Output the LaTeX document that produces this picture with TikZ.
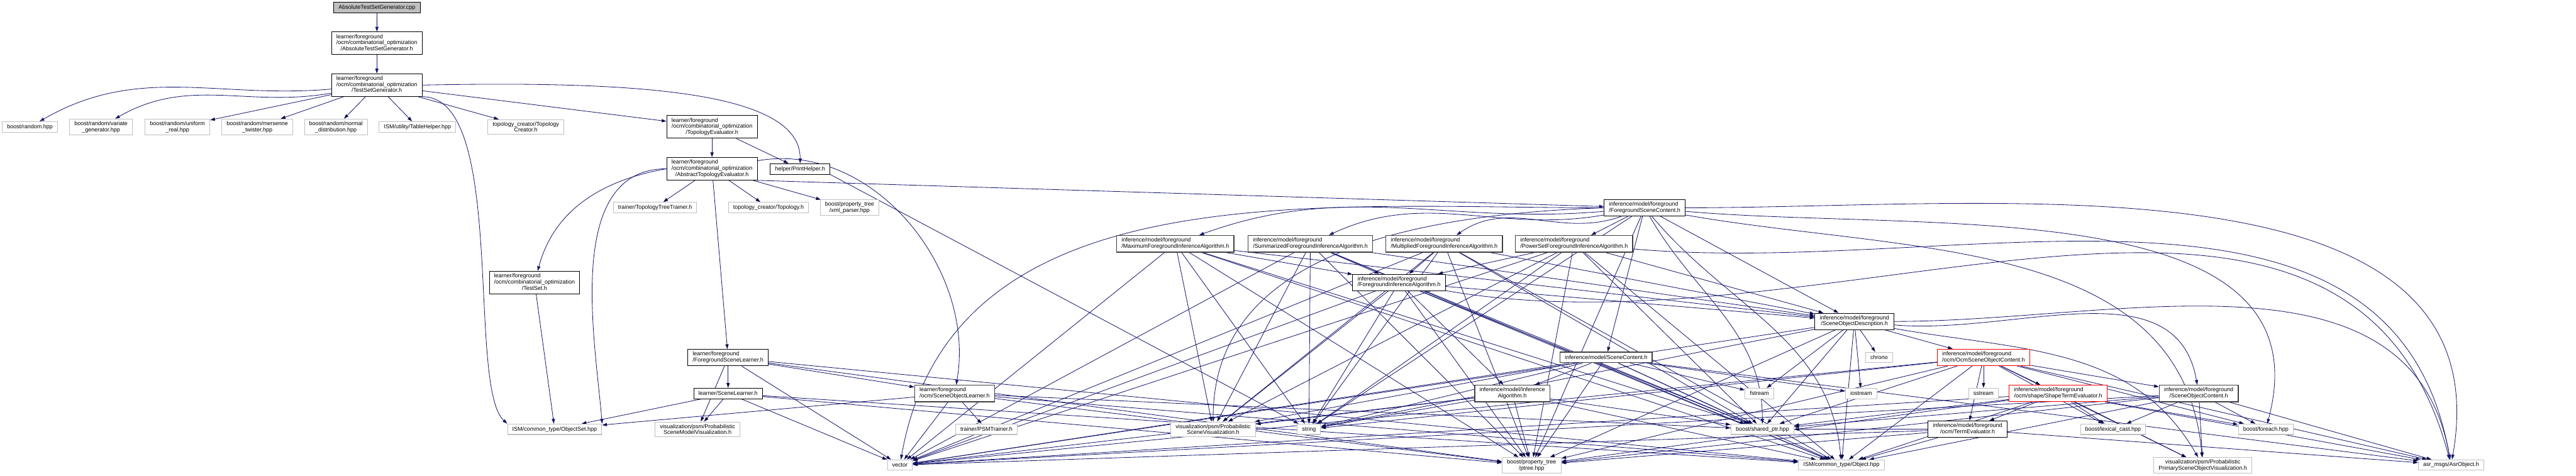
\documentclass[tikz,border=0pt]{standalone}
\usepackage{fontspec}
\setmainfont{Liberation Sans}
\usetikzlibrary{arrows.meta,backgrounds}
\definecolor{edgeblue}{HTML}{191970}
\definecolor{extgray}{HTML}{BFBFBF}
\definecolor{darkrim}{HTML}{404040}
\definecolor{trunc}{HTML}{FF0000}
\tikzset{
  file/.style={draw=black, fill=white, line width=0.45pt, minimum height=2.6mm,
    inner xsep=1.2mm, inner ysep=0.54mm, font=\fontsize{4}{4.3}\selectfont},
  srcfile/.style={file, fill=extgray},
  ext/.style={file, draw=extgray, align=center},
  dim/.style={file, draw=darkrim, line width=0.6pt},
  cut/.style={file, draw=trunc},
  dep/.style={-{Triangle[length=1.2mm,width=0.8mm]}, draw=edgeblue, line width=0.37pt},
}
\newcommand{\twol}[2]{\begin{tabular}{@{}l@{}}#1\\\multicolumn{1}{@{}c@{}}{#2}\end{tabular}}

\begin{document}
\begin{tikzpicture}
  \useasboundingbox (0,0) rectangle (64.02,-11.83);
  % test set generator chain
  \node[srcfile] (tsgcpp) at (9.37,-0.19) {AbsoluteTestSetGenerator.cpp};
  \node[file] (atsg) at (9.365,-1.075) {\twol{learner/foreground\\/ocm/combinatorial\_optimization}{/AbsoluteTestSetGenerator.h}};
  \node[file] (tsg) at (9.365,-2.115) {\twol{learner/foreground\\/ocm/combinatorial\_optimization}{/TestSetGenerator.h}};
  \node[ext] (rnd) at (0.745,-3.155) {boost/random.hpp};
  \node[ext] (vargen) at (2.51,-3.155) {boost/random/variate\\\_generator.hpp};
  \node[ext] (unireal) at (4.41,-3.155) {boost/random/uniform\\\_real.hpp};
  \node[ext] (mtwist) at (6.395,-3.155) {boost/random/mersenne\\\_twister.hpp};
  \node[ext] (normdist) at (8.35,-3.155) {boost/random/normal\\\_distribution.hpp};
  \node[ext] (tblhelp) at (10.375,-3.155) {ISM/utility/TableHelper.hpp};
  \node[ext] (topocreat) at (13.07,-3.155) {topology\_creator/Topology\\Creator.h};
  \node[file] (topoeval) at (17.695,-3.155) {\twol{learner/foreground\\/ocm/combinatorial\_optimization}{/TopologyEvaluator.h}};
  \node[file] (abstopo) at (17.695,-4.195) {\twol{learner/foreground\\/ocm/combinatorial\_optimization}{/AbstractTopologyEvaluator.h}};
  \node[file] (printh) at (19.885,-4.20) {helper/PrintHelper.h};
  \node[ext] (treetrain) at (16.28,-5.16) {trainer/TopologyTreeTrainer.h};
  \node[ext] (topology) at (19.10,-5.16) {topology\_creator/Topology.h};
  \node[ext] (xmlparse) at (21.115,-5.165) {boost/property\_tree\\/xml\_parser.hpp};
  \node[file] (testset) at (13.285,-7.025) {\twol{learner/foreground\\/ocm/combinatorial\_optimization}{/TestSet.h}};
  \node[ext] (objset) at (13.785,-10.67) {ISM/common\_type/ObjectSet.hpp};
  % learners
  \node[file] (fglearn) at (18.095,-8.89) {\twol{learner/foreground}{/ForegroundSceneLearner.h}};
  \node[file] (sclearn) at (18.095,-9.78) {learner/SceneLearner.h};
  \node[ext] (psmvis) at (17.335,-10.67) {visualization/psm/Probabilistic\\SceneModelVisualization.h};
  \node[dim] (objlearn) at (23.725,-9.78) {\twol{learner/foreground}{/ocm/SceneObjectLearner.h}};
  \node[ext] (psmtrain) at (24.515,-10.67) {trainer/PSMTrainer.h};
  % inference
  \node[file] (fgcontent) at (40.875,-5.165) {\twol{inference/model/foreground}{/ForegroundSceneContent.h}};
  \node[dim] (maxalg) at (29.21,-6.06) {\twol{inference/model/foreground}{/MaximumForegroundInferenceAlgorithm.h}};
  \node[dim] (sumalg) at (32.565,-6.06) {\twol{inference/model/foreground}{/SummarizedForegroundInferenceAlgorithm.h}};
  \node[dim] (mulalg) at (35.89,-6.06) {\twol{inference/model/foreground}{/MultipliedForegroundInferenceAlgorithm.h}};
  \node[dim] (powalg) at (39.12,-6.06) {\twol{inference/model/foreground}{/PowerSetForegroundInferenceAlgorithm.h}};
  \node[file] (fgalg) at (34.77,-7.02) {\twol{inference/model/foreground}{/ForegroundInferenceAlgorithm.h}};
  \node[file] (objdesc) at (46.085,-7.99) {\twol{inference/model/foreground}{/SceneObjectDescription.h}};
  \node[dim] (sccontent) at (39.915,-8.885) {inference/model/SceneContent.h};
  \node[ext] (chrono) at (46.70,-8.885) {chrono};
  \node[cut] (ocmcont) at (49.295,-8.885) {\twol{inference/model/foreground}{/ocm/OcmSceneObjectContent.h}};
  \node[dim] (infalg) at (37.585,-9.78) {\twol{inference/model/Inference}{Algorithm.h}};
  \node[ext] (fstream) at (43.725,-9.78) {fstream};
  \node[ext] (iostream) at (46.255,-9.78) {iostream};
  \node[ext] (sstream) at (49.295,-9.78) {sstream};
  \node[cut] (shapeeval) at (51.15,-9.78) {\twol{inference/model/foreground}{/ocm/shape/ShapeTermEvaluator.h}};
  \node[dim] (objcont) at (54.645,-9.78) {\twol{inference/model/foreground}{/SceneObjectContent.h}};
  \node[file] (termeval) at (48.90,-10.67) {\twol{inference/model/foreground}{/ocm/TermEvaluator.h}};
  % system and library headers
  \node[ext] (scvis) at (30.15,-10.67) {visualization/psm/Probabilistic\\SceneVisualization.h};
  \node[ext] (string) at (32.53,-10.67) {string};
  \node[ext] (sharedptr) at (43.80,-10.67) {boost/shared\_ptr.hpp};
  \node[ext] (lexcast) at (52.515,-10.67) {boost/lexical\_cast.hpp};
  \node[ext] (boostforeach) at (56.31,-10.67) {boost/foreach.hpp};
  \node[ext] (vector) at (22.365,-11.56) {vector};
  \node[ext] (ptree) at (38.065,-11.57) {boost/property\_tree\\/ptree.hpp};
  \node[ext] (object) at (45.765,-11.56) {ISM/common\_type/Object.hpp};
  \node[ext] (primvis) at (54.745,-11.57) {visualization/psm/Probabilistic\\PrimarySceneObjectVisualization.h};
  \node[ext] (asrobj) at (60.915,-11.56) {asr\_msgs/AsrObject.h};

  \begin{scope}[on background layer]
    % upper part
    \draw[dep] (tsgcpp) -- (atsg);
    \draw[dep] (atsg) -- (tsg);
    \draw[dep] (tsg) to[out=185,in=30] (rnd);
    \draw[dep] (tsg) to[out=190,in=30] (vargen);
    \draw[dep] (tsg) edge (unireal) edge (mtwist) edge (normdist) edge (tblhelp) edge (topocreat) edge (topoeval);
    \draw[dep] (tsg.east) .. controls (16.0,-2.0) and (19.9,-2.3) .. (printh.north);
    \draw[dep] (tsg.south east) .. controls (12.6,-2.4) and (11.6,-9.6) .. (objset.north west);
    \draw[dep] (topoeval) edge (abstopo) edge (printh);
    \draw[dep] (abstopo.west) to[out=190,in=75] (testset);
    \draw[dep] (abstopo.west) .. controls (14.0,-4.2) and (14.8,-8.5) .. (objset.north east);
    \draw[dep] (abstopo) edge (treetrain) edge (topology) edge (xmlparse) edge (fglearn);
    \draw[dep] (abstopo) to[out=10,in=80] (objlearn);
    \draw[dep] (abstopo.south east) -- (fgcontent);
    \draw[dep] (printh.south east) -- (string);
    \draw[dep] (testset) -- (objset);
    % learners
    \draw[dep] (fglearn) edge (sclearn) edge (psmvis) edge (vector) edge (objlearn) edge (ptree) edge (object);
    \draw[dep] (sclearn) edge (objset) edge (psmvis) edge (vector) edge (ptree) edge (object);
    \draw[dep] (objlearn) edge (objset) edge (vector) edge (psmtrain) edge (ptree) edge (object) edge (sharedptr);
    % scene content
    \draw[dep] (fgcontent) to[out=185,in=20] (maxalg);
    \draw[dep] (fgcontent) to[out=190,in=25] (sumalg);
    \draw[dep] (fgcontent) to[out=200,in=35] (mulalg);
    \draw[dep] (fgcontent) edge (powalg) edge (objdesc) edge (sccontent) edge (string) edge (ptree);
    \draw[dep] (fgcontent.west) to[out=180,in=80] (vector);
    \draw[dep] (fgcontent.west) to[out=182,in=90] (scvis);
    \draw[dep] (fgcontent) to[out=-60,in=90] (sharedptr);
    \draw[dep] (fgcontent) to[out=-50,in=95] (object);
    \draw[dep] (fgcontent) to[out=0,in=80] (asrobj);
    \draw[dep] (fgcontent) to[out=-5,in=75] (boostforeach);
    \draw[dep] (fgcontent) to[out=-10,in=95] (primvis);
    % inference algorithms
    \draw[dep] (maxalg) edge (fgalg) edge (objdesc) edge (vector) edge (string) edge (sharedptr) edge (ptree) edge (object) edge (scvis);
    \draw[dep] (sumalg) edge (fgalg) edge (objdesc) edge (vector) edge (string) edge (sharedptr) edge (ptree) edge (object) edge (scvis);
    \draw[dep] (mulalg) edge (fgalg) edge (objdesc) edge (vector) edge (string) edge (sharedptr) edge (ptree) edge (object) edge (scvis);
    \draw[dep] (powalg) edge (fgalg) edge (objdesc) edge (vector) edge (string) edge (sharedptr) edge (ptree) edge (object) edge (scvis);
    \draw[dep] (powalg) to[out=-5,in=100] (asrobj);
    \draw[dep] (fgalg) edge (infalg) edge (objdesc) edge (vector) edge (string) edge (sharedptr) edge (ptree) edge (object) edge (scvis);
    \draw[dep] (fgalg) to[out=-10,in=105] (asrobj);
    \draw[dep] (infalg) edge (vector) edge (string) edge (sharedptr) edge (ptree) edge (object) edge (scvis);
    \draw[dep] (sccontent) edge (infalg) edge (fstream) edge (iostream) edge (vector) edge (string) edge (sharedptr) edge (ptree) edge (object) edge (scvis) edge (asrobj);
    % scene objects
    \draw[dep] (objdesc) edge (fstream) edge (iostream) edge (chrono) edge (ocmcont) edge (vector) edge (string) edge (sharedptr) edge (ptree) edge (object);
    \draw[dep] (objdesc) to[out=-5,in=100] (objcont);
    \draw[dep] (objdesc) to[out=0,in=100] (asrobj);
    \draw[dep] (objdesc) to[out=-10,in=120] (primvis);
    \draw[dep] (ocmcont) edge (sstream) edge (shapeeval) edge (objcont) edge (termeval) edge (lexcast) edge (boostforeach) edge (vector) edge (string) edge (sharedptr) edge (ptree) edge (object) edge (asrobj) edge (primvis);
    \draw[dep] (shapeeval) edge (termeval) edge (lexcast) edge (boostforeach) edge (primvis) edge (vector) edge (sharedptr) edge (ptree) edge (object) edge (asrobj);
    \draw[dep] (objcont) edge (lexcast) edge (boostforeach) edge (primvis) edge (asrobj) edge (vector) edge (sharedptr) edge (ptree) edge (object);
    \draw[dep] (termeval) edge (object) edge (asrobj) edge (ptree) edge (sharedptr) edge (vector);
  \end{scope}
\end{tikzpicture}
\end{document}
